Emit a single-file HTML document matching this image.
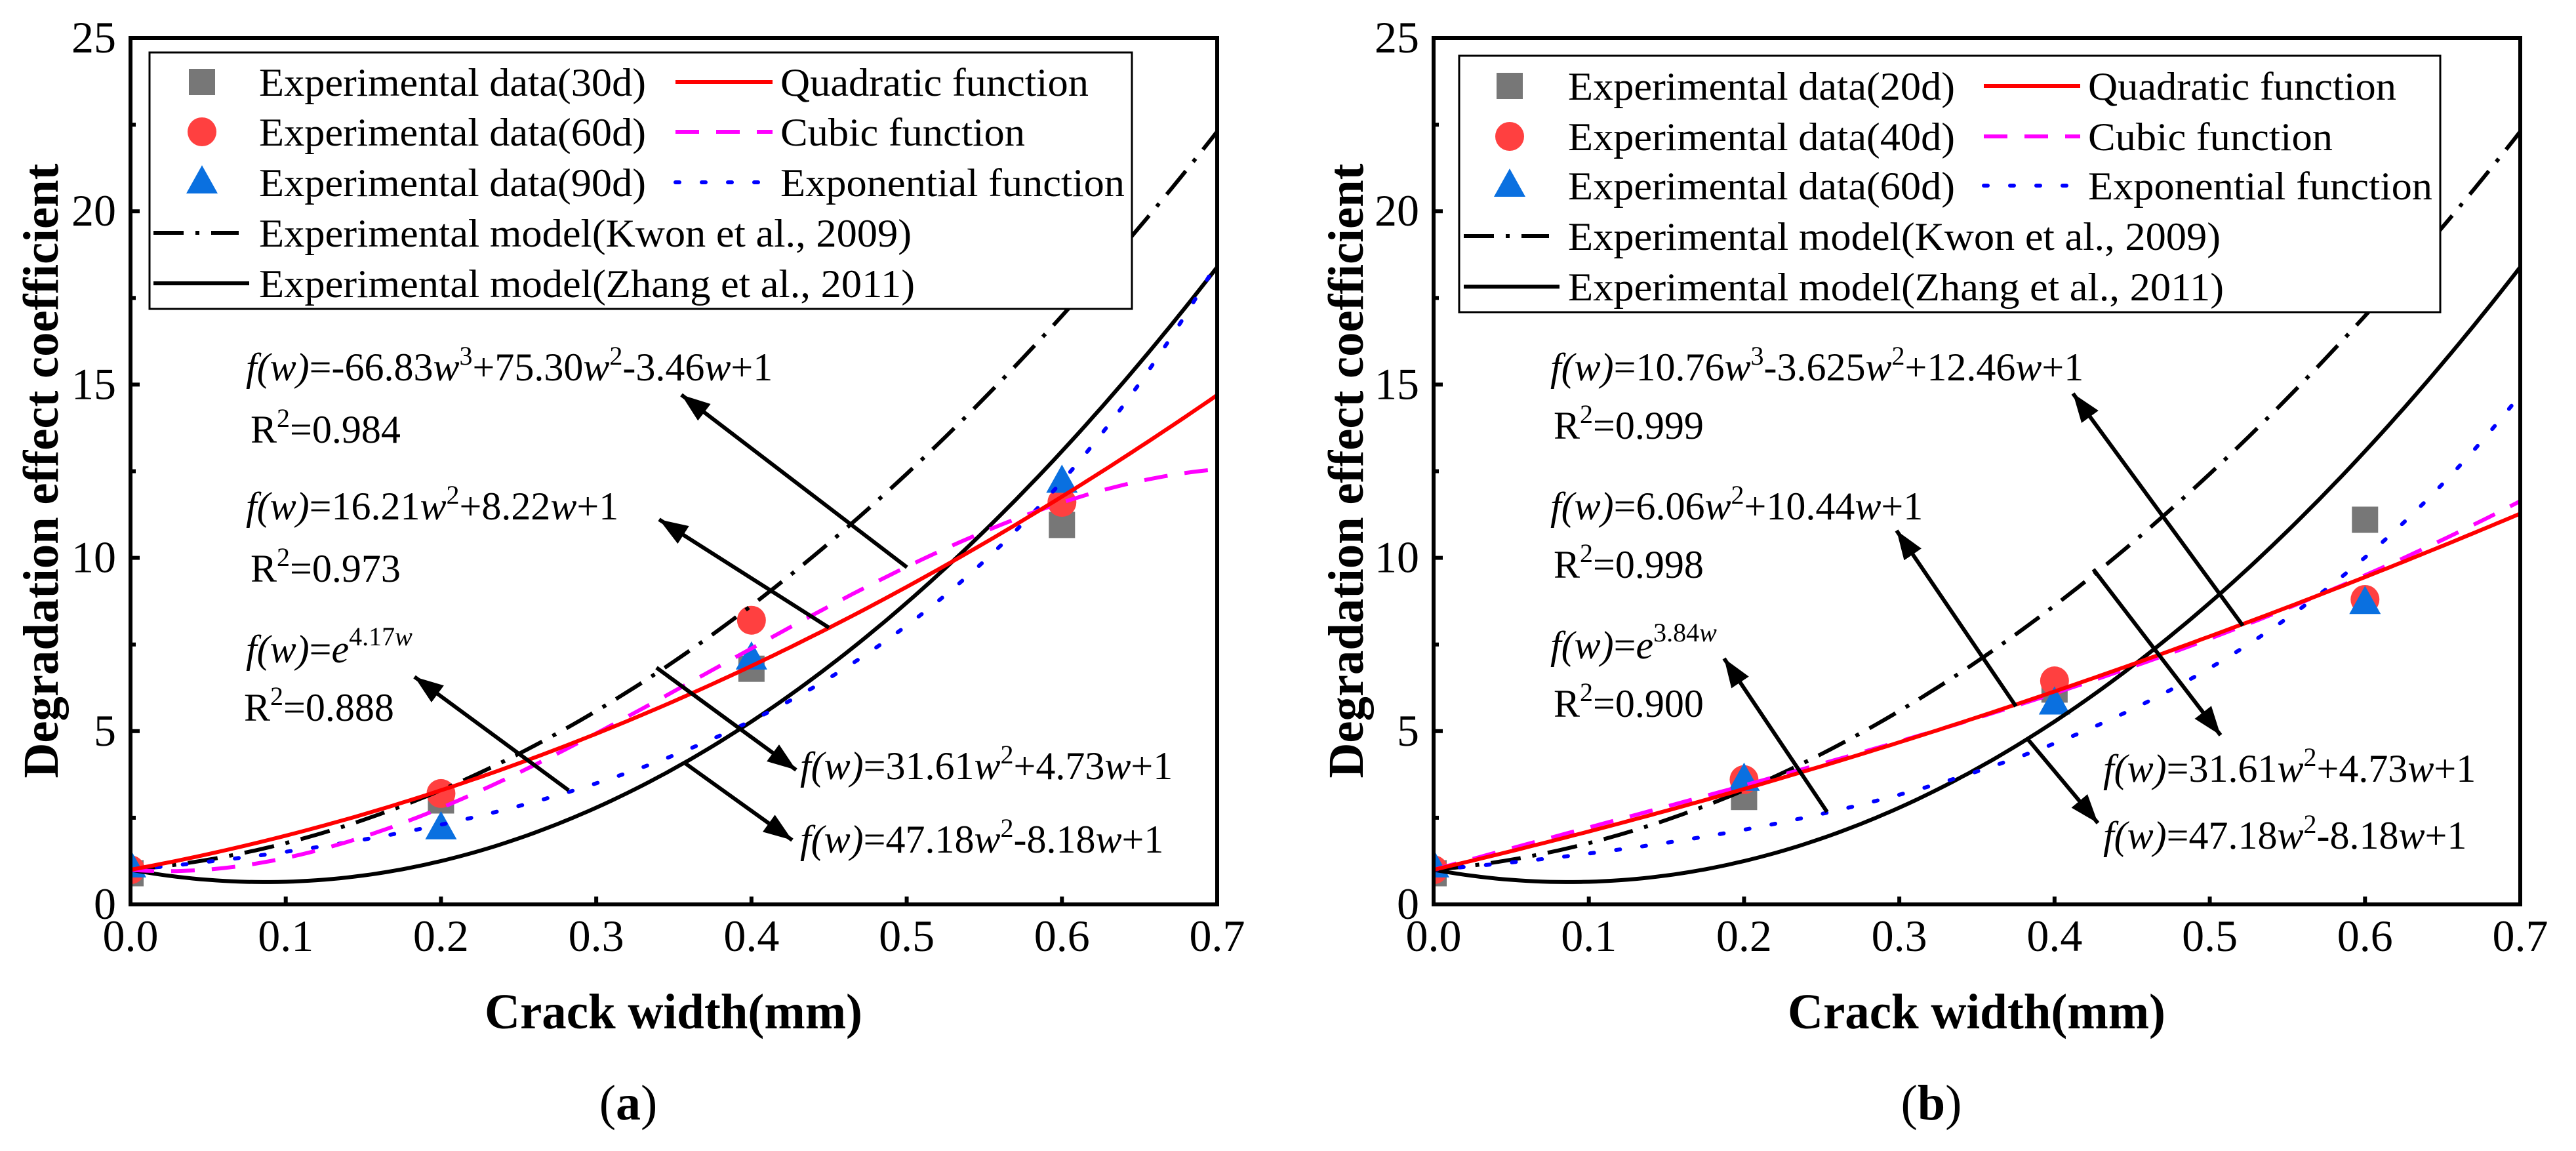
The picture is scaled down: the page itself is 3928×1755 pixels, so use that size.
<!DOCTYPE html>
<html><head><meta charset="utf-8"><style>
html,body{margin:0;padding:0;background:#fff;}
svg, svg text, svg tspan{font-family:"Liberation Serif", serif;}
</style></head><body>
<svg id="fig" width="3928" height="1750" viewBox="0 0 3928 1750" xmlns="http://www.w3.org/2000/svg" font-family="Liberation Serif, serif">
<defs>
<clipPath id="clipA"><rect x="199" y="58" width="1657" height="1321"/></clipPath>
<clipPath id="clipB"><rect x="2186" y="58" width="1657" height="1321"/></clipPath>
<marker id="ah" markerUnits="userSpaceOnUse" markerWidth="50" markerHeight="40" refX="44" refY="16" orient="auto"><path d="M0,0 L44,16 L0,32 Z" fill="#000"/></marker>
</defs>
<g id="panelA"></g>
<g id="panelB"></g>

<g font-size="60">
<text x="375" y="580"><tspan font-style="italic">f(w)</tspan>=-66.83<tspan font-style="italic">w</tspan><tspan dy="-24" font-size="40">3</tspan><tspan dy="24">+75.30</tspan><tspan font-style="italic">w</tspan><tspan dy="-24" font-size="40">2</tspan><tspan dy="24">-3.46</tspan><tspan font-style="italic">w</tspan>+1</text>
<text x="382" y="675">R<tspan dy="-24" font-size="40">2</tspan><tspan dy="24">=0.984</tspan></text>
<text x="375" y="792"><tspan font-style="italic">f(w)</tspan>=16.21<tspan font-style="italic">w</tspan><tspan dy="-24" font-size="40">2</tspan><tspan dy="24">+8.22</tspan><tspan font-style="italic">w</tspan>+1</text>
<text x="382" y="887">R<tspan dy="-24" font-size="40">2</tspan><tspan dy="24">=0.973</tspan></text>
<text x="375" y="1010"><tspan font-style="italic">f(w)</tspan>=<tspan font-style="italic">e</tspan><tspan dy="-26" font-size="40">4.17</tspan><tspan font-size="40" font-style="italic">w</tspan></text>
<text x="372" y="1099">R<tspan dy="-24" font-size="40">2</tspan><tspan dy="24">=0.888</tspan></text>
<text x="1220" y="1188"><tspan font-style="italic">f(w)</tspan>=31.61<tspan font-style="italic">w</tspan><tspan dy="-24" font-size="40">2</tspan><tspan dy="24">+4.73</tspan><tspan font-style="italic">w</tspan>+1</text>
<text x="1220" y="1300"><tspan font-style="italic">f(w)</tspan>=47.18<tspan font-style="italic">w</tspan><tspan dy="-24" font-size="40">2</tspan><tspan dy="24">-8.18</tspan><tspan font-style="italic">w</tspan>+1</text>
</g>
<g stroke="#000" stroke-width="6" marker-end="url(#ah)">
<line x1="1383" y1="865" x2="1039" y2="602"/>
<line x1="1264" y1="957" x2="1005" y2="792"/>
<line x1="867" y1="1205" x2="632" y2="1032"/>
<line x1="1001" y1="1018" x2="1214" y2="1174"/>
<line x1="1045" y1="1164" x2="1208" y2="1281"/>
</g>

<g font-size="60">
<text x="2364" y="580"><tspan font-style="italic">f(w)</tspan>=10.76<tspan font-style="italic">w</tspan><tspan dy="-24" font-size="40">3</tspan><tspan dy="24">-3.625</tspan><tspan font-style="italic">w</tspan><tspan dy="-24" font-size="40">2</tspan><tspan dy="24">+12.46</tspan><tspan font-style="italic">w</tspan>+1</text>
<text x="2369" y="669">R<tspan dy="-24" font-size="40">2</tspan><tspan dy="24">=0.999</tspan></text>
<text x="2364" y="792"><tspan font-style="italic">f(w)</tspan>=6.06<tspan font-style="italic">w</tspan><tspan dy="-24" font-size="40">2</tspan><tspan dy="24">+10.44</tspan><tspan font-style="italic">w</tspan>+1</text>
<text x="2369" y="881">R<tspan dy="-24" font-size="40">2</tspan><tspan dy="24">=0.998</tspan></text>
<text x="2364" y="1004"><tspan font-style="italic">f(w)</tspan>=<tspan font-style="italic">e</tspan><tspan dy="-26" font-size="40">3.84</tspan><tspan font-size="40" font-style="italic">w</tspan></text>
<text x="2369" y="1093">R<tspan dy="-24" font-size="40">2</tspan><tspan dy="24">=0.900</tspan></text>
<text x="3207" y="1192"><tspan font-style="italic">f(w)</tspan>=31.61<tspan font-style="italic">w</tspan><tspan dy="-24" font-size="40">2</tspan><tspan dy="24">+4.73</tspan><tspan font-style="italic">w</tspan>+1</text>
<text x="3207" y="1294"><tspan font-style="italic">f(w)</tspan>=47.18<tspan font-style="italic">w</tspan><tspan dy="-24" font-size="40">2</tspan><tspan dy="24">-8.18</tspan><tspan font-style="italic">w</tspan>+1</text>
</g>
<g stroke="#000" stroke-width="6" marker-end="url(#ah)">
<line x1="3420" y1="954" x2="3161" y2="600"/>
<line x1="3074" y1="1077" x2="2892" y2="809"/>
<line x1="2786" y1="1238" x2="2629" y2="1004"/>
<line x1="3192" y1="868" x2="3386" y2="1121"/>
<line x1="3092" y1="1127" x2="3199" y2="1255"/>
</g>

<text x="1027" y="1568" font-size="76" font-weight="bold" text-anchor="middle" textLength="576" lengthAdjust="spacingAndGlyphs">Crack width(mm)</text>
<text x="3014" y="1568" font-size="76" font-weight="bold" text-anchor="middle" textLength="576" lengthAdjust="spacingAndGlyphs">Crack width(mm)</text>
<text transform="translate(88,718) rotate(-90)" font-size="76" font-weight="bold" text-anchor="middle" textLength="937" lengthAdjust="spacingAndGlyphs">Degradation effect coefficient</text>
<text transform="translate(2078,718) rotate(-90)" font-size="76" font-weight="bold" text-anchor="middle" textLength="937" lengthAdjust="spacingAndGlyphs">Degradation effect coefficient</text>
<text x="958" y="1707" font-size="76" text-anchor="middle">(<tspan font-weight="bold">a</tspan>)</text>
<text x="2945" y="1707" font-size="76" text-anchor="middle">(<tspan font-weight="bold">b</tspan>)</text>
</svg>
<script>
const X_TICKS = [0.0, 0.1, 0.2, 0.3, 0.4, 0.5, 0.6, 0.7];
const X_TICK_LABELS = ["0.0","0.1","0.2","0.3","0.4","0.5","0.6","0.7"];
const Y_TICKS = [0, 5, 10, 15, 20, 25];
const Y_TICK_LABELS = ["0","5","10","15","20","25"];
const Y_MINOR = [2.5, 7.5, 12.5, 17.5, 22.5];
const CRACK_W = [0.0, 0.2, 0.4, 0.6];
const A_DATA_30D = [0.9, 3.0, 6.8, 10.95];
const A_DATA_60D = [1.0, 3.2, 8.2, 11.6];
const A_DATA_90D = [1.1, 2.2, 7.1, 12.2];
const A_QUAD = [16.21, 8.22, 1];
const A_CUBIC = [-66.83, 75.30, -3.46, 1];
const A_EXP_K = [4.17];
const B_DATA_20D = [0.9, 3.1, 6.2, 11.1];
const B_DATA_40D = [1.0, 3.6, 6.45, 8.8];
const B_DATA_60D = [1.1, 3.6, 5.8, 8.7];
const B_QUAD = [6.06, 10.44, 1];
const B_CUBIC = [10.76, -3.625, 12.46, 1];
const B_EXP_K = [3.84];
const KWON = [37.9, 3.9, 1];
const ZHANG = [47.18, -8.18, 1];

const NS = "http://www.w3.org/2000/svg";
function mk(tag, attrs, parent) {
  const e = document.createElementNS(NS, tag);
  for (const k in attrs) e.setAttribute(k, attrs[k]);
  parent.appendChild(e);
  return e;
}
function poly(c, w) { let v = 0; for (const a of c) v = v * w + a; return v; }

const PANELS = [
  {g:"panelA", key:"a", clip:"clipA", x0:199, x1:1856, y0:1379, y1:58,
   pts:[A_DATA_30D, A_DATA_60D, A_DATA_90D], quad:A_QUAD, cubic:A_CUBIC, expk:A_EXP_K,
   labels:["Experimental data(30d)","Experimental data(60d)","Experimental data(90d)"],
   leg:{x:228,y:80,w:1498,h:391,rows:[125,201,278,355,432],mk:308,t1:395,l2a:1030,l2b:1178,t2:1190,l4a:234,l4b:364,l5b:380}},
  {g:"panelB", key:"b", clip:"clipB", x0:2186, x1:3843, y0:1379, y1:58,
   pts:[B_DATA_20D, B_DATA_40D, B_DATA_60D], quad:B_QUAD, cubic:B_CUBIC, expk:B_EXP_K,
   labels:["Experimental data(20d)","Experimental data(40d)","Experimental data(60d)"],
   leg:{x:2225,y:85,w:1496,h:391,rows:[131,208,283,360,437],mk:2302,t1:2391,l2a:3025,l2b:3172,t2:3184,l4a:2232,l4b:2362,l5b:2378}}
];

const SER_STYLE = {
  quad:{stroke:"#ff0000"}, cubic:{stroke:"#ff00ff","stroke-dasharray":"36 26"},
  exp:{stroke:"#0000ff","stroke-dasharray":"6 34","stroke-linecap":"round"},
  kwon:{stroke:"#000","stroke-dasharray":"46 18 6 18"}, zhang:{stroke:"#000"}
};
const MK_COL = ["#777777","#ff4040","#0a70e0"];

function marker(kind, cx, cy, parent) {
  let e;
  if (kind === 0) e = mk("rect", {x:cx-20, y:cy-20, width:40, height:40, fill:MK_COL[0]}, parent);
  else if (kind === 1) e = mk("circle", {cx:cx, cy:cy, r:22, fill:MK_COL[1]}, parent);
  else e = mk("polygon", {points:`${cx},${cy-26} ${cx+24},${cy+17} ${cx-24},${cy+17}`, fill:MK_COL[2]}, parent);
  return e;
}

for (const p of PANELS) {
  const G = document.getElementById(p.g);
  const sx = w => p.x0 + w / 0.7 * (p.x1 - p.x0);
  const sy = v => p.y0 - v / 25 * (p.y0 - p.y1);
  const plot = mk("g", {"clip-path":`url(#${p.clip})`}, G);
  
  

  p.pts.forEach((arr, si) => {
    arr.forEach((v, i) => {
      const m = marker(si, sx(CRACK_W[i]), sy(v), plot);
      
      
    });
  });

  const fns = {
    kwon: w => poly(KWON, w), zhang: w => poly(ZHANG, w),
    exp: w => Math.exp(p.expk[0] * w),
    cubic: w => poly(p.cubic, w), quad: w => poly(p.quad, w)
  };
  for (const name of ["kwon","zhang","exp","cubic","quad"]) {
    let d = "";
    for (let i = 0; i <= 140; i++) {
      const w = 0.7 * i / 140;
      d += (i ? "L" : "M") + sx(w).toFixed(1) + "," + sy(fns[name](w)).toFixed(1);
    }
    const path = mk("path", Object.assign({d:d, fill:"none", "stroke-width":6}, SER_STYLE[name]), plot);
    
    
  }

  const fr = mk("rect", {x:p.x0, y:p.y1, width:p.x1-p.x0, height:p.y0-p.y1, fill:"none", stroke:"#000", "stroke-width":6}, G);
  
  

  X_TICKS.forEach((t, i) => {
    const x = sx(t);
    const tk = mk("line", {x1:x, y1:p.y0, x2:x, y2:p.y0-12, stroke:"#000", "stroke-width":6}, G);
    
    
    const lb = mk("text", {x:x, y:1450, "font-size":68, "text-anchor":"middle", "font-family":"Liberation Serif, serif"}, G);
    lb.textContent = X_TICK_LABELS[i];
    
    
  });
  Y_TICKS.forEach((t, i) => {
    const y = sy(t);
    const tk = mk("line", {x1:p.x0, y1:y, x2:p.x0+14, y2:y, stroke:"#000", "stroke-width":6}, G);
    
    
    const lb = mk("text", {x:p.x0-22, y:y+22, "font-size":68, "text-anchor":"end", "font-family":"Liberation Serif, serif"}, G);
    lb.textContent = Y_TICK_LABELS[i];
    
    
  });
  Y_MINOR.forEach(t => {
    const y = sy(t);
    const tk = mk("line", {x1:p.x0, y1:y, x2:p.x0+8, y2:y, stroke:"#000", "stroke-width":6}, G);
    
    
  });

  const L = p.leg;
  const lg = mk("g", {"font-size":60, "font-family":"Liberation Serif, serif"}, G);
  
  
  const box = mk("rect", {x:L.x, y:L.y, width:L.w, height:L.h, fill:"#fff", stroke:"#000", "stroke-width":3}, lg);
  
  
  const col1 = [p.labels[0], p.labels[1], p.labels[2], "Experimental model(Kwon et al., 2009)", "Experimental model(Zhang et al., 2011)"];
  const col1W = [590, 590, 590, 995, 1000];
  col1.forEach((s, i) => {
    const y = L.rows[i];
    if (i < 3) {
      const m = marker(i, L.mk, y, lg);
      
      
    } else {
      const ln = mk("line", Object.assign({x1:L.l4a, y1:y, x2:(i===3?L.l4b:L.l5b), y2:y, "stroke-width":6}, SER_STYLE[i===3?"kwon":"zhang"]), lg);
      
      
    }
    const tx = mk("text", {x:L.t1, y:y+21, textLength:col1W[i], lengthAdjust:"spacingAndGlyphs"}, lg);
    tx.textContent = s;
    
    
  });
  const col2 = ["Quadratic function", "Cubic function", "Exponential function"];
  const col2K = ["quad", "cubic", "exp"];
  const col2W = [470, 373, 525];
  col2.forEach((s, i) => {
    const y = L.rows[i];
    const ln = mk("line", Object.assign({x1:L.l2a, y1:y, x2:L.l2b, y2:y, "stroke-width":6}, SER_STYLE[col2K[i]]), lg);
    
    
    const tx = mk("text", {x:L.t2, y:y+21, textLength:col2W[i], lengthAdjust:"spacingAndGlyphs"}, lg);
    tx.textContent = s;
    
    
  });
}
</script>
</body></html>
